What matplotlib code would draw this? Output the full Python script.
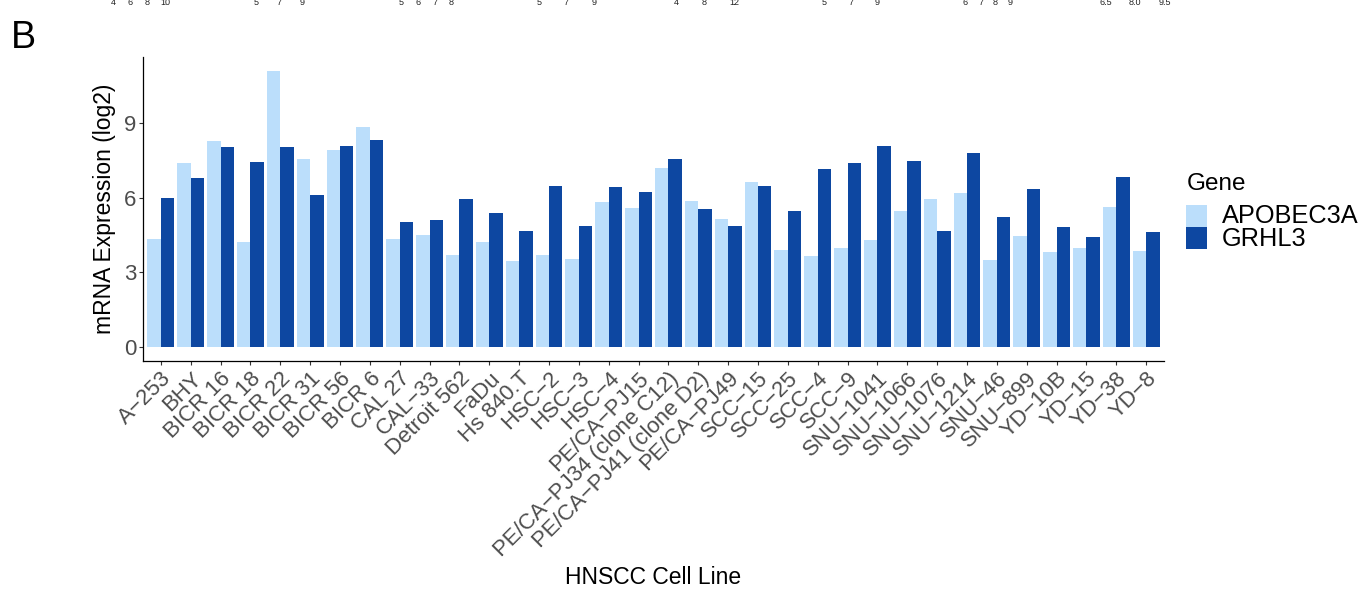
import matplotlib
matplotlib.use("Agg")
import matplotlib.pyplot as plt
import numpy as np

plt.rcParams['font.family'] = ['Liberation Sans', 'DejaVu Sans']

cell_lines = ["A\u2212253", "BHY", "BICR 16", "BICR 18", "BICR 22", "BICR 31", "BICR 56", "BICR 6",
              "CAL 27", "CAL\u221233", "Detroit 562", "FaDu", "Hs 840.T", "HSC\u22122", "HSC\u22123",
              "HSC\u22124", "PE/CA\u2212PJ15", "PE/CA\u2212PJ34 (clone C12)", "PE/CA\u2212PJ41 (clone D2)",
              "PE/CA\u2212PJ49", "SCC\u221215", "SCC\u221225", "SCC\u22124", "SCC\u22129", "SNU\u22121041",
              "SNU\u22121066", "SNU\u22121076", "SNU\u22121214", "SNU\u221246", "SNU\u2212899", "YD\u221210B",
              "YD\u221215", "YD\u221238", "YD\u22128"]

apobec3a = [4.36, 7.39, 8.27, 4.24, 11.10, 7.55, 7.91, 8.83, 4.36, 4.52, 3.72, 4.24, 3.48, 3.72,
            3.56, 5.84, 5.60, 7.19, 5.88, 5.16, 6.64, 3.92, 3.68, 4.00, 4.32, 5.48, 5.96, 6.20,
            3.52, 4.48, 3.84, 4.00, 5.64, 3.88]
grhl3 = [6.00, 6.80, 8.03, 7.43, 8.03, 6.12, 8.07, 8.31, 5.04, 5.12, 5.96, 5.40, 4.68, 6.48,
         4.88, 6.44, 6.24, 7.55, 5.56, 4.88, 6.48, 5.48, 7.15, 7.39, 8.07, 7.47, 4.68, 7.79,
         5.24, 6.36, 4.84, 4.44, 6.84, 4.64]

genes = ["APOBEC3A", "GRHL3"]
colors = ["#BBDEFB", "#0D47A1"]
y_ticks = [0, 3, 6, 9]

# remnant tick labels of a panel above (cut off at the top edge)
top_labels = ["4", "6", "8", "10", "5", "7", "9", "5", "6", "7", "8", "5", "7", "9",
              "4", "8", "12", "5", "7", "9", "6", "7", "8", "9", "6.5", "8.0", "9.5"]
top_label_x = [113, 130, 147, 165, 256, 279, 302, 401, 418, 435, 451, 539, 566, 594,
               676, 704, 734, 824, 851, 877, 965, 981, 995, 1010, 1106, 1135, 1165]

W, H = 1360, 590
fig = plt.figure(figsize=(W / 100, H / 100), dpi=100)
ax = fig.add_axes([143 / W, 1 - 361 / H, (1164 - 143) / W, (361 - 57) / H])

n = len(cell_lines)
x = np.arange(n)
bw = 0.45
ax.bar(x - bw / 2, apobec3a, width=bw, color=colors[0], linewidth=0)
ax.bar(x + bw / 2, grhl3, width=bw, color=colors[1], linewidth=0)

ax.set_xlim(-0.6, n - 1 + 0.6)
ax.set_ylim(-0.555, 11.655)
ax.set_yticks(y_ticks)
ax.set_yticklabels([str(v) for v in y_ticks], fontsize=16, color="#4D4D4D")
ax.set_xticks(x)
ax.set_xticklabels(cell_lines, rotation=45, ha="right", va="top", rotation_mode="anchor",
                   fontsize=16, color="#4D4D4D")
ax.tick_params(axis="both", length=2.75, width=0.8, color="#333333", pad=2.2)

for s in ["top", "right"]:
    ax.spines[s].set_visible(False)
for s in ["left", "bottom"]:
    ax.spines[s].set_linewidth(0.9)
    ax.spines[s].set_color("black")

fig.text(104 / W, 1 - 209 / H, "mRNA Expression (log2)", rotation=90, ha="center", va="center",
         fontsize=16.5)
fig.text(653 / W, 1 - 578 / H, "HNSCC Cell Line", ha="center", va="center", fontsize=16.5)
fig.text(11 / W, 1 - 48 / H, "B", ha="left", va="baseline", fontsize=27)

for t, xp in zip(top_labels, top_label_x):
    fig.text(xp / W, 1 - 2.5 / H, t, ha="center", va="center", fontsize=6.5, color="#222222")

# legend
fig.text(1187 / W, 1 - 190 / H, "Gene", ha="left", va="baseline", fontsize=17.5)
key_tops = [205, 227.5]
for g, c, kt in zip(genes, colors, key_tops):
    fig.patches.append(plt.Rectangle((1186 / W, 1 - (kt + 22) / H), 21 / W, 22 / H,
                                     transform=fig.transFigure, color=c, linewidth=0))
    fig.text(1222 / W, 1 - (kt + 11) / H, g, ha="left", va="center", fontsize=18.3)

fig.savefig("out.png", dpi=100)
